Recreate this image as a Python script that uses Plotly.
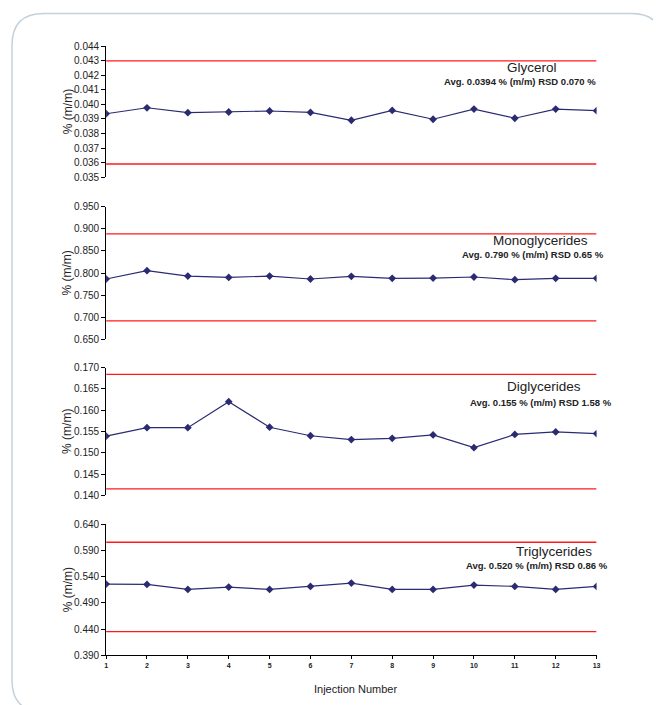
import plotly.graph_objects as go

# page body adds an 8px margin; the figure is sized to fit the 661x705 window
OFF = 8
W, H = 661 - OFF, 705 - OFF

injections = list(range(1, 14))
x_tick_labels = [str(i) for i in injections]

glycerol = [0.03936, 0.03977, 0.03943, 0.03948, 0.03955, 0.03945, 0.03891,
            0.03959, 0.03898, 0.03968, 0.03905, 0.03968, 0.03957]
mono = [0.7865, 0.8053, 0.7932, 0.7902, 0.7932, 0.7865, 0.7925,
        0.7880, 0.7887, 0.7910, 0.7850, 0.7880, 0.7880]
di = [0.1539, 0.1559, 0.1559, 0.1620, 0.1560, 0.1540, 0.1531,
      0.1534, 0.1542, 0.1512, 0.1543, 0.1549, 0.1545]
tri = [0.5258, 0.5252, 0.5156, 0.5201, 0.5156, 0.5214, 0.5277,
       0.5156, 0.5156, 0.5239, 0.5214, 0.5156, 0.5214]

glycerol_limits = [0.0359, 0.0430]
mono_limits = [0.6918, 0.8887]
di_limits = [0.1415, 0.1684]
tri_limits = [0.4350, 0.6057]

titles = ["Glycerol", "Monoglycerides", "Diglycerides", "Triglycerides"]
subtitles = ["Avg. 0.0394 % (m/m) RSD 0.070 %",
             "Avg. 0.790 % (m/m) RSD 0.65 %",
             "Avg. 0.155 % (m/m) RSD 1.58 %",
             "Avg. 0.520 % (m/m) RSD 0.86 %"]
y_ranges = [(0.035, 0.044), (0.650, 0.950), (0.140, 0.170), (0.390, 0.640)]
y_dticks = [0.001, 0.05, 0.005, 0.05]

series = [glycerol, mono, di, tri]
lims = [glycerol_limits, mono_limits, di_limits, tri_limits]

# layout in window pixels (target positions)
x_left, x_right = 105, 600
panels_px = [(46, 177), (206.7, 339.7), (368, 496), (525, 656.3)]
title_pos = [(535, 67), (543, 240.5), (547, 386.5), (557, 552)]
sub_right = [601, 610, 618, 614]
sub_y = [81, 255, 402.5, 566]

NAVY = "#2b2b72"
RED = "#ff1a1a"
TXT = "#222222"
FONT = "Liberation Sans, Arial"


def px(x):
    return (x - OFF) / W


def py(y):
    # empirical vertical correction of the captured page
    y = (y - 5.7) / 0.985
    return 1 - (y - OFF) / H


fig = go.Figure()
layout = dict(width=W, height=H, margin=dict(l=0, r=0, t=0, b=0),
              paper_bgcolor="white", plot_bgcolor="white", showlegend=False)

annotations = []
for i in range(4):
    n = i + 1
    xa = "x" if n == 1 else f"x{n}"
    ya = "y" if n == 1 else f"y{n}"
    lo, hi = lims[i]
    for v in (lo, hi):
        fig.add_trace(go.Scatter(x=[injections[0], injections[-1]], y=[v, v],
                                 mode="lines", line=dict(color=RED, width=1.3),
                                 xaxis=xa, yaxis=ya, hoverinfo="skip"))
    fig.add_trace(go.Scatter(x=injections, y=series[i], mode="lines+markers",
                             line=dict(color=NAVY, width=1.2),
                             marker=dict(symbol="diamond", size=6, color=NAVY),
                             xaxis=xa, yaxis=ya))
    top, bot = panels_px[i]
    xkey = "xaxis" if n == 1 else f"xaxis{n}"
    ykey = "yaxis" if n == 1 else f"yaxis{n}"
    last = (i == 3)
    layout[xkey] = dict(domain=[px(x_left), px(x_right)], range=[1, 13],
                        anchor=ya, showgrid=False, zeroline=False,
                        visible=last, showline=last, linecolor="black",
                        linewidth=1, ticks="outside" if last else "",
                        ticklen=3, tickcolor="black",
                        tickvals=injections, ticktext=x_tick_labels,
                        tickfont=dict(family=FONT, size=7, color=TXT,
                                      weight="bold"))
    layout[ykey] = dict(domain=[py(bot), py(top)],
                        range=list(y_ranges[i]), anchor=xa,
                        dtick=y_dticks[i], tick0=y_ranges[i][0],
                        tickformat=".3f", showgrid=False, zeroline=False,
                        showline=True, linecolor="black", linewidth=1,
                        ticks="outside", ticklen=4, tickcolor="black",
                        tickfont=dict(family=FONT, size=10, color=TXT))
    annotations.append(dict(text="% (m/m)", x=px(66), y=py((top + bot) / 2),
                            xref="paper", yref="paper", showarrow=False,
                            textangle=-90, xanchor="center", yanchor="middle",
                            font=dict(family=FONT, size=12, color=TXT)))
    tx, ty = title_pos[i]
    annotations.append(dict(text=titles[i], x=px(tx), y=py(ty),
                            xref="paper", yref="paper", showarrow=False,
                            xanchor="center", yanchor="middle",
                            font=dict(family=FONT, size=13.5, color=TXT)))
    annotations.append(dict(text=subtitles[i], x=px(sub_right[i]), y=py(sub_y[i]),
                            xref="paper", yref="paper", showarrow=False,
                            xanchor="right", yanchor="middle",
                            font=dict(family=FONT, size=9.5, color=TXT,
                                      weight="bold")))

annotations.append(dict(text="Injection Number", x=px(357), y=py(690),
                        xref="paper", yref="paper", showarrow=False,
                        xanchor="center", yanchor="middle",
                        font=dict(family=FONT, size=11, color=TXT)))
layout["annotations"] = annotations

# rounded border
L, T, R, B, rad = 10, 13, 667, 713, 32
path = (f"M {px(L + rad)},{py(T)} L {px(R - rad)},{py(T)} "
        f"Q {px(R)},{py(T)} {px(R)},{py(T + rad)} L {px(R)},{py(B - rad)} "
        f"Q {px(R)},{py(B)} {px(R - rad)},{py(B)} L {px(L + rad)},{py(B)} "
        f"Q {px(L)},{py(B)} {px(L)},{py(B - rad)} L {px(L)},{py(T + rad)} "
        f"Q {px(L)},{py(T)} {px(L + rad)},{py(T)} Z")
layout["shapes"] = [dict(type="path", path=path, xref="paper", yref="paper",
                         line=dict(color="#c3d1db", width=1.5), layer="below")]

fig.update_layout(**layout)
fig.write_html("out.html")
